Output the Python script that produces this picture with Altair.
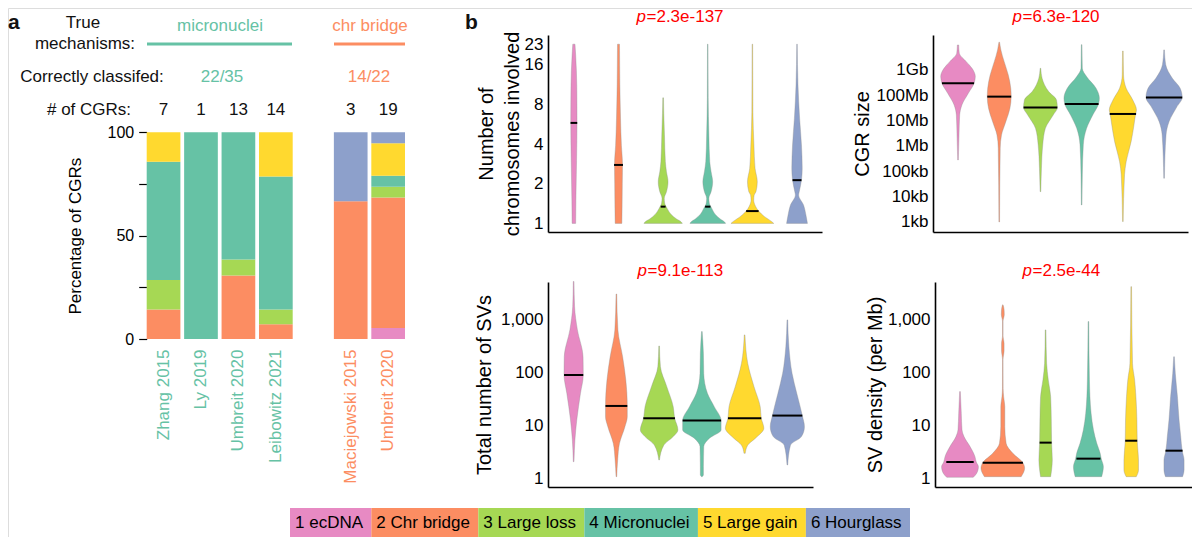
import altair as alt
import pandas as pd

FONT = "Liberation Sans"

# ---------------- data ----------------
CATS = ["1 ecDNA", "2 Chr bridge", "3 Large loss", "4 Micronuclei", "5 Large gain", "6 Hourglass"]
COLORS = ["#E78AC3", "#FC8D62", "#A6D854", "#66C2A5", "#FFD92F", "#8DA0CB"]

STUDIES = ["Zhang 2015", "Ly 2019", "Umbreit 2020", "Leibowitz 2021", "Maciejowski 2015", "Umbreit 2020"]
STUDY_SLOTS = ["0", "1", "2", "3", "4", "5"]
SLOT_DOMAIN = ["0", "1", "2", "3", "gap", "4", "5"]
# counts per class: ecDNA, chr bridge, large loss, micronuclei, large gain, hourglass
STUDY_COUNTS = [
    [0, 1, 1, 4, 1, 0],
    [0, 0, 0, 1, 0, 0],
    [0, 4, 1, 8, 0, 0],
    [0, 1, 1, 9, 3, 0],
    [0, 2, 0, 0, 0, 1],
    [1, 12, 1, 1, 3, 1],
]
GROUP_NAMES = ["micronuclei", "chr bridge"]
GROUP_CORRECT = ["22/35", "14/22"]

# violin profiles: values and half-widths (fraction of the slot)
CHROM_V = [
    [1, 1.5, 3, 6, 11, 19, 23],
    [1, 1.3, 2, 2.8, 3.9, 6.3, 11.3, 23],
    [1, 1.03, 1.08, 1.17, 1.3, 1.42, 1.55, 1.74, 2.07, 2.47, 2.94, 4.7, 6.8, 9.0],
    [1, 1.03, 1.08, 1.17, 1.3, 1.42, 1.55, 1.74, 2.07, 2.47, 2.94, 4.7, 9, 23],
    [1, 1.04, 1.12, 1.24, 1.35, 1.5, 1.64, 1.74, 2.07, 2.62, 3.94, 7, 23],
    [1, 1.16, 1.38, 1.64, 1.74, 2.13, 2.62, 3.94, 6.3, 11.3, 23],
]
CHROM_W = [
    [0.04, 0.045, 0.06, 0.07, 0.065, 0.04, 0.025],
    [0.075, 0.08, 0.085, 0.09, 0.065, 0.045, 0.03, 0.022],
    [0.43, 0.4, 0.3, 0.18, 0.09, 0.035, 0.025, 0.075, 0.11, 0.075, 0.05, 0.03, 0.015, 0.008],
    [0.4, 0.37, 0.28, 0.17, 0.09, 0.035, 0.025, 0.075, 0.11, 0.075, 0.045, 0.025, 0.01, 0.006],
    [0.48, 0.42, 0.28, 0.14, 0.07, 0.03, 0.04, 0.08, 0.11, 0.06, 0.035, 0.012, 0.006],
    [0.234, 0.2, 0.146, 0.036, 0.05, 0.1, 0.117, 0.1, 0.058, 0.022, 0.006],
]
CHROM_MED = [5.8, 2.78, 1.34, 1.34, 1.24, 2.13]
CHROM_MEDW = [0.075, 0.1, 0.055, 0.06, 0.14, 0.1]
CHROM_TICKS = [1, 2, 4, 8, 16, 23]

SIZE_V = [
    [2.8e5, 2.7e6, 1.67e7, 4.15e7, 1.2e8, 2.98e8, 5.46e8, 1.16e9, 2.13e9, 4.55e9, 9.7e9],
    [1e3, 8.1e5, 2.7e6, 9.1e6, 3.07e7, 8.85e7, 1.89e8, 6.3e8, 2.13e9, 6.2e9, 1.25e10],
    [1.57e4, 1.31e5, 1.1e6, 4.98e6, 1.67e7, 3.26e7, 6.5e7, 1.4e8, 4.7e8, 1.16e9],
    [4.7e3, 7.2e4, 1.1e6, 4.98e6, 1.67e7, 4.55e7, 7.6e7, 1.89e8, 5.46e8, 1.16e9, 1e10],
    [1.03e3, 7.2e4, 2.4e5, 1.48e6, 6.8e6, 1.83e7, 2.6e7, 6.5e7, 1.89e8, 6.3e8, 5.6e9],
    [5.3e4, 2.7e6, 9.1e6, 3.5e7, 8.1e7, 1.89e8, 4.7e8, 1.6e9, 6.2e9],
]
SIZE_W = [
    [0.008, 0.024, 0.04, 0.094, 0.25, 0.39, 0.42, 0.34, 0.2, 0.031, 0.016],
    [0.008, 0.024, 0.055, 0.16, 0.26, 0.29, 0.28, 0.22, 0.12, 0.04, 0.008],
    [0.008, 0.024, 0.055, 0.12, 0.31, 0.41, 0.39, 0.2, 0.04, 0.008],
    [0.008, 0.016, 0.04, 0.12, 0.27, 0.41, 0.43, 0.35, 0.12, 0.016, 0.008],
    [0.008, 0.04, 0.08, 0.2, 0.27, 0.31, 0.33, 0.24, 0.08, 0.016, 0.008],
    [0.008, 0.047, 0.12, 0.31, 0.44, 0.39, 0.2, 0.04, 0.008],
]
SIZE_MED = [2.98e8, 8.85e7, 3.26e7, 4.55e7, 1.83e7, 8.1e7]
SIZE_MEDW = [0.39, 0.29, 0.41, 0.41, 0.32, 0.44]
SIZE_TICKS = [1e3, 1e4, 1e5, 1e6, 1e7, 1e8, 1e9]
SIZE_LABELS = ["1kb", "10kb", "100kb", "1Mb", "10Mb", "100Mb", "1Gb"]

SVS_V = [
    [2.04, 5.3, 12.6, 40.6, 90, 200, 646, 1780, 5370],
    [1.06, 2.2, 4.55, 9.4, 14.6, 23.3, 72.8, 200, 646, 3100],
    [2.2, 4.2, 6.1, 8.15, 13.6, 22.6, 54, 130, 320],
    [1.06, 1.14, 1.64, 3.94, 5.7, 8.15, 12.3, 22.6, 40.5, 97, 233, 600],
    [2.94, 4.2, 5.7, 8.8, 13.6, 22.6, 54, 150, 519],
    [1.77, 4.2, 6.1, 9.4, 15.3, 40.5, 97, 310, 1000],
]
SVS_W = [
    [0.008, 0.03, 0.073, 0.16, 0.225, 0.22, 0.088, 0.022, 0.008],
    [0.008, 0.03, 0.073, 0.2, 0.255, 0.255, 0.22, 0.146, 0.036, 0.008],
    [0.008, 0.11, 0.33, 0.44, 0.365, 0.33, 0.18, 0.03, 0.008],
    [0.008, 0.036, 0.036, 0.044, 0.18, 0.45, 0.45, 0.29, 0.13, 0.044, 0.036, 0.008],
    [0.015, 0.073, 0.255, 0.45, 0.39, 0.365, 0.22, 0.073, 0.008],
    [0.008, 0.073, 0.33, 0.4, 0.35, 0.22, 0.11, 0.036, 0.008],
]
SVS_MED = [90, 23.3, 13.6, 12.3, 13.6, 15.3]
SVS_MEDW = [0.225, 0.255, 0.37, 0.45, 0.39, 0.35]

DENS_V = [
    [1.03, 1.23, 1.64, 2.01, 2.54, 3.94, 6.1, 8.2, 16.9, 43.6],
    [1.06, 1.53, 1.95, 2.94, 4.55, 9.4, 22.6, 35, 50, 178, 257, 360, 497, 950, 1250, 1580, 1930],
    [1.06, 1.42, 2.2, 4.69, 12.6, 35, 72.6, 150, 646],
    [1.06, 1.64, 2.33, 2.94, 4.55, 8.2, 16.9, 72.6, 930],
    [1.06, 1.42, 2.2, 5.1, 12.6, 35, 72.6, 150, 4280],
    [1.06, 1.42, 2.2, 3.3, 6.1, 12.6, 35, 97, 200],
]
DENS_W = [
    [0.31, 0.39, 0.43, 0.38, 0.35, 0.235, 0.094, 0.047, 0.03, 0.008],
    [0.43, 0.51, 0.47, 0.235, 0.078, 0.047, 0.047, 0.02, 0.008, 0.006, 0.03, 0.03, 0.006, 0.006, 0.035, 0.03, 0.006],
    [0.118, 0.14, 0.157, 0.14, 0.133, 0.118, 0.063, 0.024, 0.008],
    [0.31, 0.35, 0.3, 0.275, 0.196, 0.118, 0.063, 0.024, 0.008],
    [0.118, 0.17, 0.17, 0.14, 0.133, 0.11, 0.08, 0.03, 0.008],
    [0.2, 0.235, 0.235, 0.19, 0.157, 0.118, 0.08, 0.03, 0.008],
]
DENS_MED = [2.01, 1.95, 4.69, 2.33, 5.1, 3.3]
DENS_MEDW = [0.32, 0.47, 0.14, 0.28, 0.14, 0.2]
SV_TICKS = [1, 10, 100, 1000]

P_VALUES = ["2.3e-137", "6.3e-120", "9.1e-113", "2.5e-44"]
Y_TITLES = [["Number of", "chromosomes involved"], "CGR size", "Total number of SVs", "SV density (per Mb)"]

# ---------------- layout helpers ----------------
OFF = 8
W, H = 1184, 529


def P(v):
    return v - OFF


ONE = pd.DataFrame({"o": [0]})
COLOR_SCALE = alt.Scale(domain=CATS, range=COLORS)


def txt(s, x, y, size=17, color="#111", align="center", weight="normal", style="normal"):
    return alt.Chart(ONE).mark_text(
        text=s, align=align, baseline="alphabetic", fontSize=size, color=color,
        fontWeight=weight, fontStyle=style, font=FONT
    ).encode(x=alt.value(P(x)), y=alt.value(P(y)))


def hline(x0, x1, y, color):
    return alt.Chart(ONE).mark_rule(color=color, strokeWidth=3).encode(
        x=alt.value(P(x0)), x2=alt.value(P(x1)), y=alt.value(P(y)))


# ---------------- panel a ----------------
bar_rows = []
for slot, counts in zip(STUDY_SLOTS, STUDY_COUNTS):
    for k, n in enumerate(counts):
        if n > 0:
            bar_rows.append({"slot": slot, "cat": CATS[k], "k": k, "n": n})
bar_df = pd.DataFrame(bar_rows)
cnt_df = pd.DataFrame({"slot": STUDY_SLOTS, "total": [sum(c) for c in STUDY_COUNTS]})

name_arr = "[" + ",".join("'%s'" % s for s in STUDIES) + "]"
xa_scale = alt.Scale(domain=SLOT_DOMAIN, range=[P(146.7), P(405)], paddingInner=0.1, paddingOuter=0)
xa_axis = alt.Axis(
    orient="bottom", offset=P(339) - H, title="", ticks=False, domain=False, grid=False,
    labelAngle=-90, labelAlign="right", labelBaseline="middle", labelPadding=10,
    labelFontSize=17, labelFont=FONT,
    labelExpr="datum.value == 'gap' ? '' : %s[toNumber(datum.value)]" % name_arr,
    labelColor=alt.condition("datum.value == '4' || datum.value == '5'", alt.value(COLORS[1]), alt.value(COLORS[3])),
)
ya_scale = alt.Scale(domain=[0, 100], range=[P(339), P(132.3)], nice=False)
ya_axis = alt.Axis(
    orient="left", offset=-P(146.7), values=[0, 25, 50, 75, 100],
    labelExpr="datum.value % 50 == 0 ? datum.label : ''", domain=False, ticks=True,
    tickSize=8, tickColor="#000", tickWidth=1.2, grid=False, labelPadding=5, labelFontSize=16,
    title="Percentage of CGRs", titleFontSize=17, titleFontWeight="normal", titlePadding=23,
)
bars = alt.Chart(bar_df).mark_bar().transform_joinaggregate(
    total="sum(n)", groupby=["slot"]
).transform_calculate(pct="100 * datum.n / datum.total").encode(
    x=alt.X("slot:N", scale=xa_scale, axis=xa_axis),
    y=alt.Y("pct:Q", stack="zero", scale=ya_scale, axis=ya_axis),
    color=alt.Color("cat:N", scale=COLOR_SCALE, legend=None),
    order=alt.Order("k:Q", sort="ascending"),
)
counts_txt = alt.Chart(cnt_df).mark_text(fontSize=17, font=FONT, color="#111", baseline="alphabetic").encode(
    x=alt.X("slot:N", scale=xa_scale, axis=xa_axis),
    y=alt.value(P(115)),
    text="total:Q",
)
panel_a = alt.layer(bars, counts_txt)

headers = [
    txt("a", 8, 29, size=21, weight="bold", align="left"),
    txt("True", 83, 28),
    txt("mechanisms:", 85, 49),
    txt(GROUP_NAMES[0], 220, 31, color=COLORS[3]),
    txt(GROUP_NAMES[1], 370, 31, color=COLORS[1]),
    hline(147, 292, 44, COLORS[3]),
    hline(334, 405, 44, COLORS[1]),
    txt("Correctly classifed:", 92, 82),
    txt(GROUP_CORRECT[0], 222, 82, color=COLORS[3]),
    txt(GROUP_CORRECT[1], 369, 82, color=COLORS[1]),
    txt("# of CGRs:", 89, 115),
    txt("b", 465, 29, size=21, weight="bold", align="left"),
]


# ---------------- panel b ----------------
def violin_panel(vals, widths, meds, medw, ydom, ybot, ytop, xdom, xl, xr, ticks, title, tpad,
                 label_expr=None, fmt=None):
    rows = []
    for k, cat in enumerate(CATS):
        for v, w in zip(vals[k], widths[k]):
            rows.append({"cat": cat, "pos": k + 0.5, "v": v, "w": w})
    df = pd.DataFrame(rows)
    mdf = pd.DataFrame({"cat": CATS, "pos": [k + 0.5 for k in range(6)], "m": meds, "w": medw})
    xs = alt.Scale(domain=xdom, range=[P(xl), P(xr)], nice=False, zero=False)
    ys = alt.Scale(type="log", domain=ydom, range=[P(ybot), P(ytop)], nice=False)
    yax = dict(orient="left", offset=-P(xl), values=ticks, domain=True, domainColor="#000",
               domainWidth=1.6, ticks=False, grid=False, labelPadding=5, labelFontSize=17,
               title=title, titleFontSize=20, titleFontWeight="normal", titlePadding=tpad,
               titleLineHeight=26)
    if label_expr:
        yax["labelExpr"] = label_expr
    if fmt:
        yax["format"] = fmt
    yaxis = alt.Axis(**yax)
    xaxis = alt.Axis(orient="bottom", offset=P(ybot) - H, labels=False, ticks=False, domain=True,
                     domainColor="#000", domainWidth=1.6, grid=False, title="")
    area = alt.Chart(df).mark_area(
        orient="horizontal", interpolate="monotone", stroke="#8c8c8c", strokeWidth=0.5, strokeOpacity=0.7
    ).transform_calculate(
        xlo="datum.pos - datum.w", xhi="datum.pos + datum.w"
    ).encode(
        y=alt.Y("v:Q", scale=ys, axis=yaxis),
        x=alt.X("xlo:Q", scale=xs, axis=xaxis),
        x2="xhi:Q",
        color=alt.Color("cat:N", scale=COLOR_SCALE, legend=None),
    )
    med = alt.Chart(mdf).mark_rule(color="#000", strokeWidth=2).transform_calculate(
        xlo="datum.pos - datum.w", xhi="datum.pos + datum.w"
    ).encode(
        y=alt.Y("m:Q", scale=ys, axis=yaxis),
        x=alt.X("xlo:Q", scale=xs, axis=xaxis),
        x2="xhi:Q",
    )
    return alt.layer(area, med)


size_expr = "[" + ",".join("'%s'" % s for s in SIZE_LABELS) + "][round(log(datum.value) / LN10) - 3]"

b1 = violin_panel(CHROM_V, CHROM_W, CHROM_MED, CHROM_MEDW, [0.86, 27], 232, 35, [-0.08, 6.06], 548, 822,
                  CHROM_TICKS, Y_TITLES[0], 2)
b2 = violin_panel(SIZE_V, SIZE_W, SIZE_MED, SIZE_MEDW, [400, 2.4e10], 232, 35, [-0.107, 6.08], 933, 1188,
                  SIZE_TICKS, Y_TITLES[1], 4, label_expr=size_expr)
b3 = violin_panel(SVS_V, SVS_W, SVS_MED, SVS_MEDW, [0.675, 5240], 487, 282, [-0.1, 6.1], 548, 813,
                  SV_TICKS, Y_TITLES[2], 6, fmt=",")
b4 = violin_panel(DENS_V, DENS_W, DENS_MED, DENS_MEDW, [0.675, 5240], 487, 282, [-0.084, 5.92], 935, 1192,
                  SV_TICKS, Y_TITLES[3], 2, fmt=",")

P_POS = [(646, 22), (1022, 22), (647, 276), (1032, 276)]
ptexts = []
for pv, (x, y) in zip(P_VALUES, P_POS):
    ptexts.append(txt("p", x, y, color="#FF0000", align="right", style="italic"))
    ptexts.append(txt("=" + pv, x + 0.5, y, color="#FF0000", align="left"))

# ---------------- legend ----------------
CW = {" ": .278, "1": .556, "2": .556, "3": .556, "4": .556, "5": .556, "6": .556, "e": .556, "c": .5,
      "D": .722, "N": .722, "A": .667, "C": .722, "h": .556, "r": .333, "b": .556, "i": .222, "d": .556,
      "g": .556, "L": .556, "a": .556, "l": .222, "o": .556, "s": .5, "M": .833, "n": .556, "u": .556,
      "H": .722}
widths = [sum(CW.get(ch, .556) for ch in c) * 17 + 13 for c in CATS]
starts, acc = [], 0.0
for wv in widths:
    starts.append(acc)
    acc += wv
leg_df = pd.DataFrame({"cat": CATS, "start": starts, "end": [s + wv for s, wv in zip(starts, widths)]})
leg_x = alt.Scale(domain=[0, acc], range=[P(290), P(910)], nice=False, zero=False)
leg_rect = alt.Chart(leg_df).mark_rect().encode(
    x=alt.X("start:Q", scale=leg_x, axis=None),
    x2="end:Q",
    y=alt.value(P(508)),
    y2=alt.value(P(537)),
    color=alt.Color("cat:N", scale=COLOR_SCALE, legend=None),
)
leg_txt = alt.Chart(leg_df).mark_text(align="left", baseline="middle", dx=5, fontSize=17, font=FONT,
                                      color="#000").encode(
    x=alt.X("start:Q", scale=leg_x, axis=None),
    y=alt.value(P(523)),
    text="cat:N",
)
legend = alt.layer(leg_rect, leg_txt)

chart = alt.layer(
    panel_a, *headers, b1, b2, b3, b4, *ptexts, legend
).resolve_scale(
    x="independent", y="independent"
).properties(
    width=W, height=H, padding=0, autosize=alt.AutoSizeParams(type="none")
).configure_view(stroke=None).configure_axis(
    labelFont=FONT, titleFont=FONT, labelColor="#000", titleColor="#000"
).configure(background="white")

chart.save("out.html", embed_options={"renderer": "svg", "actions": False})
